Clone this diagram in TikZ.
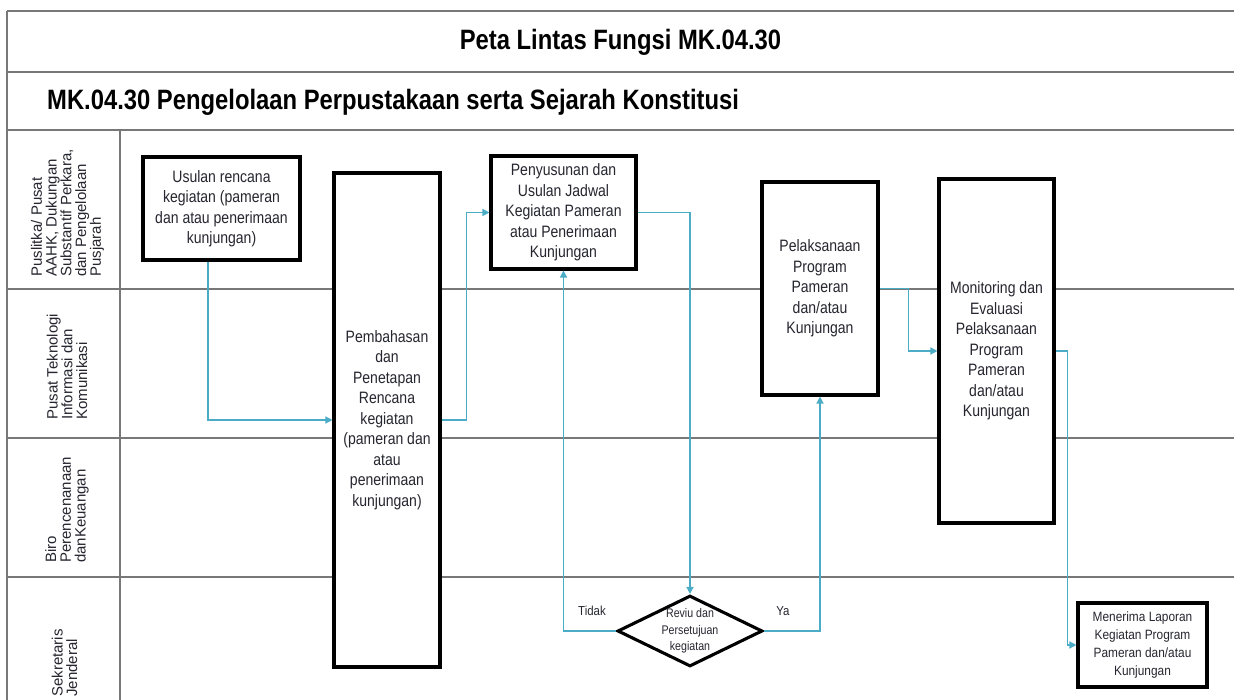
\documentclass[tikz,border=0pt]{standalone}
\usepackage{fontspec}
\setmainfont{Liberation Sans}
\newfontfamily\narrowfont{Liberation Sans}[FakeStretch=0.85]
\newfontfamily\smallnarrow{Liberation Sans}[FakeStretch=0.88]
\usetikzlibrary{shapes.geometric,arrows.meta}
\definecolor{flowc}{RGB}{75,172,198}
\definecolor{lanec}{RGB}{120,120,120}
\definecolor{txtc}{RGB}{38,38,48}
\begin{document}
\begin{tikzpicture}[x=1pt,y=-1pt,
  lane/.style={draw=lanec, line width=1.8pt},
  procbox/.style={draw=black, line width=3.1pt, fill=white, inner sep=0pt, align=center, text=txtc, font=\narrowfont\fontsize{16.5}{20.5}\selectfont},
  flow/.style={draw=flowc, line width=1.3pt, -{Triangle[width=7pt,length=7pt]}},
  lanelbl/.style={rotate=90, anchor=west, align=left, inner sep=0pt, text=txtc, font=\fontsize{15}{14.7}\selectfont},
  headtxt/.style={inner sep=0pt, text=black, font=\narrowfont\bfseries\fontsize{28}{30}\selectfont},
  branchlbl/.style={inner sep=0pt, text=txtc, font=\smallnarrow\fontsize{13}{15}\selectfont}]
\useasboundingbox (0,0) rectangle (1234,700);
\fill[white] (0,0) rectangle (1234,700);
% frame and lanes
\draw[lane] (7,11) -- (1234,11);
\draw[lane] (7,72) -- (1234,72);
\draw[lane] (7,130) -- (1234,130);
\draw[lane] (7,289) -- (1234,289);
\draw[lane] (7,438) -- (1234,438);
\draw[lane] (7,577) -- (1234,577);
\draw[lane] (7,11) -- (7,700);
\draw[lane] (120,130) -- (120,700);
% headings
\node[headtxt] (title) at (620.5,42) {Peta Lintas Fungsi MK.04.30};
\node[headtxt, anchor=west] (subtitle) at (47,102) {MK.04.30 Pengelolaan Perpustakaan serta Sejarah Konstitusi};
% lane labels
\node[lanelbl] (l1) at (67.5,277) {Puslitka/ Pusat\\AAHK, Dukungan\\Substantif Perkara,\\dan Pengelolaan\\Pusjarah};
\node[lanelbl] (l2) at (67,420) {Pusat Teknologi\\Informasi dan\\Komunikasi};
\node[lanelbl] (l3) at (67,563) {Biro\\Perencenanaan\\danKeuangan};
\node[lanelbl] (l4) at (64.5,697) {Sekretaris\\Jenderal};
% process boxes
\node[procbox, minimum width=157pt, minimum height=103pt] (A) at (221.5,208.5) {Usulan rencana\\kegiatan (pameran\\dan atau penerimaan\\kunjungan)};
\node[procbox, minimum width=106pt, minimum height=494pt] (B) at (387,420) {Pembahasan\\dan\\Penetapan\\Rencana\\kegiatan\\(pameran dan\\atau\\penerimaan\\kunjungan)};
\node[procbox, minimum width=145pt, minimum height=113pt] (C) at (563.5,212.5) {Penyusunan dan\\Usulan Jadwal\\Kegiatan Pameran\\atau Penerimaan\\Kunjungan};
\node[procbox, minimum width=116pt, minimum height=213pt] (D) at (820,288.5) {Pelaksanaan\\Program\\Pameran\\dan/atau\\Kunjungan};
\node[procbox, minimum width=115pt, minimum height=344pt] (E) at (996.5,351) {Monitoring dan\\Evaluasi\\Pelaksanaan\\Program\\Pameran\\dan/atau\\Kunjungan};
\node[procbox, minimum width=129pt, minimum height=84pt, font=\smallnarrow\fontsize{13.5}{17.7}\selectfont] (F) at (1142.5,645) {Menerima Laporan\\Kegiatan Program\\Pameran dan/atau\\Kunjungan};
% decision
\node[diamond, draw=black, line width=3.1pt, fill=white, minimum width=145pt, minimum height=71pt, inner sep=0pt] (dm) at (690,631) {};
\node[inner sep=0pt, align=center, text=txtc, font=\narrowfont\fontsize{12.5}{16.5}\selectfont] (dmt) at (dm.center) {Reviu dan\\Persetujuan\\kegiatan};
% connectors
\draw[flow] ([xshift=-13.5pt]A.south) |- (B.west);
\draw[flow] (B.east) -- ++(25,0) |- (C.west);
\draw[flow] (C.east) -| (dm.north);
\draw[flow] (dm.west) -| (C.south);
\draw[flow] (dm.east) -| (D.south);
\draw[flow] (D.east) -- ++(29,0) |- (E.west);
\draw[flow] (E.east) -- ++(12,0) |- (F.west);
% branch labels
\node[branchlbl] (tidak) at (592,611) {Tidak};
\node[branchlbl] (ya) at (783,611) {Ya};
\end{tikzpicture}
\end{document}
